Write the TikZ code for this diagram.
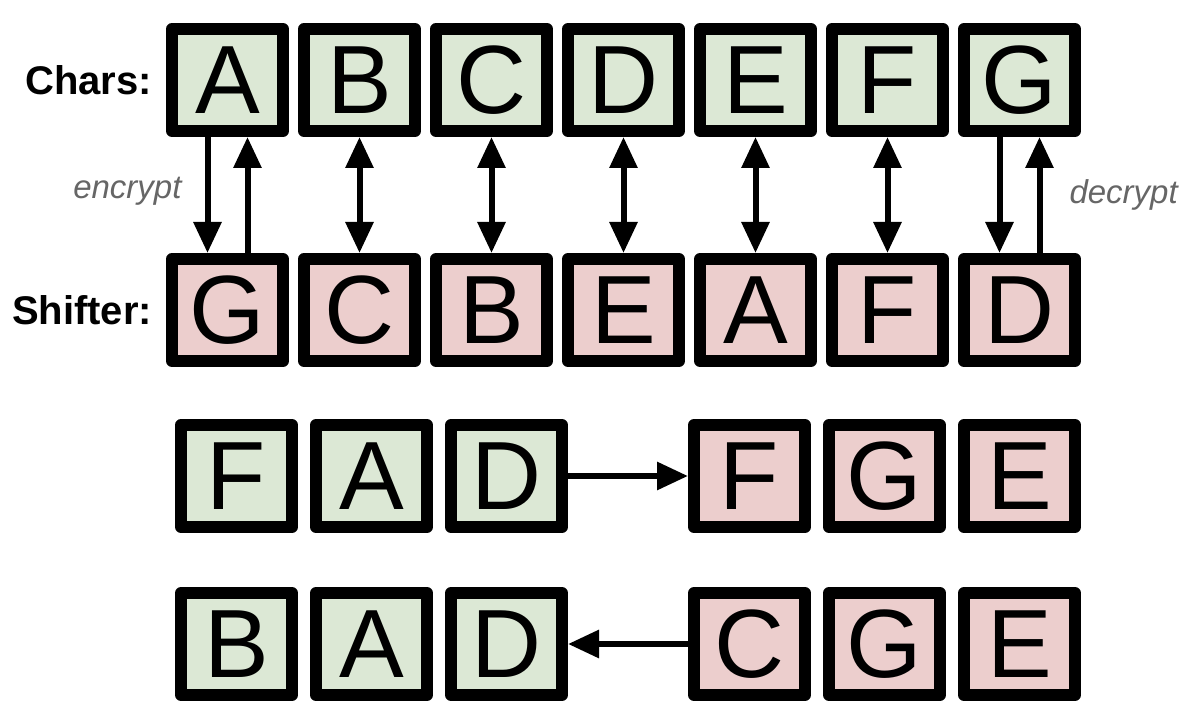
\documentclass[tikz,border=0pt]{standalone}
\usepackage{fontspec}
\setmainfont{Liberation Sans}
\usepackage{tikz}
\usetikzlibrary{positioning, arrows.meta}
\definecolor{plaingreen}{RGB}{220,232,213}
\definecolor{cipherpink}{RGB}{236,206,205}
\tikzset{
	>={Triangle[length=15.5pt, width=13.5pt]},
	letterbox/.append style={
		draw,
		line width=6pt,
		line join=round,
		minimum width=55.5pt,
		minimum height=51pt,
		inner sep=0pt,
		outer sep=3pt,
		font={\fontsize{48.5}{58}\selectfont}
	},
	plainbox/.append style={
		letterbox,
		fill=plaingreen,
	},
	cipherbox/.append style={
		letterbox,
		fill=cipherpink,
	},
	rowlbl/.append style={
		inner sep=0pt,
		outer sep=0pt,
		font={\fontsize{20}{24}\selectfont\bfseries}
	},
	cryptlbl/.append style={
		inner sep=0pt,
		outer sep=0pt,
		text=black!60,
		font={\fontsize{16.5}{20}\selectfont\itshape}
	},
	link/.append style={
		line width=3pt,
	}
}

\begin{document}
\begin{tikzpicture}[]
		\useasboundingbox (0,0) rectangle (598pt,-361pt);
		
		% alphabet and its shuffled partner
		\node(chA)[plainbox] at (113.75pt,-40pt){A};
		\node(chB)[plainbox, right=4.5pt of chA]{B};
		\node(chC)[plainbox, right=4.5pt of chB]{C};
		\node(chD)[plainbox, right=4.5pt of chC]{D};
		\node(chE)[plainbox, right=4.5pt of chD]{E};
		\node(chF)[plainbox, right=4.5pt of chE]{F};
		\node(chG)[plainbox, right=4.5pt of chF]{G};
		
		\node(shG)[cipherbox, below=58pt of chA]{G};
		\node(shC)[cipherbox, right=4.5pt of shG]{C};
		\node(shB)[cipherbox, right=4.5pt of shC]{B};
		\node(shE)[cipherbox, right=4.5pt of shB]{E};
		\node(shA)[cipherbox, right=4.5pt of shE]{A};
		\node(shF)[cipherbox, right=4.5pt of shA]{F};
		\node(shD)[cipherbox, right=4.5pt of shF]{D};
		
		\node(charslbl)[rowlbl, left=7pt of chA]{Chars:};
		\node(shifterlbl)[rowlbl, left=7pt of shG]{Shifter:};
		
		\foreach \upper/\lower in {chB/shC, chC/shB, chD/shE, chE/shA, chF/shF}{
			\draw[<->, link] (\upper) -- (\lower);
		};
		
		\draw[->, link] ([xshift=-10pt]chA.south) -- node(enclbl)[cryptlbl, left=13pt, pos=0.47]{encrypt} ([xshift=-10pt]shG.north);
		\draw[->, link] ([xshift=10pt]shG.north) -- ([xshift=10pt]chA.south);
		\draw[->, link] ([xshift=-10pt]chG.south) -- ([xshift=-10pt]shD.north);
		\draw[->, link] ([xshift=10pt]shD.north) -- node(declbl)[cryptlbl, right=15pt]{decrypt} ([xshift=10pt]chG.south);
		
		% encrypting a word
		\node(msgF)[plainbox] at (118.25pt,-238pt){F};
		\node(msgA)[plainbox, right=6pt of msgF]{A};
		\node(msgD)[plainbox, right=6pt of msgA]{D};
		\node(codeF)[cipherbox, right=60pt of msgD]{F};
		\node(codeG)[cipherbox, right=6pt of codeF]{G};
		\node(codeE)[cipherbox, right=6pt of codeG]{E};
		
		\draw[->, link] (msgD) -- (codeF);
		
		% decrypting a word
		\node(outB)[plainbox, below=27pt of msgF]{B};
		\node(outA)[plainbox, right=6pt of outB]{A};
		\node(outD)[plainbox, right=6pt of outA]{D};
		\node(inC)[cipherbox, right=60pt of outD]{C};
		\node(inG)[cipherbox, right=6pt of inC]{G};
		\node(inE)[cipherbox, right=6pt of inG]{E};
		
		\draw[->, link] (inC) -- (outD);
		
\end{tikzpicture}
\end{document}
